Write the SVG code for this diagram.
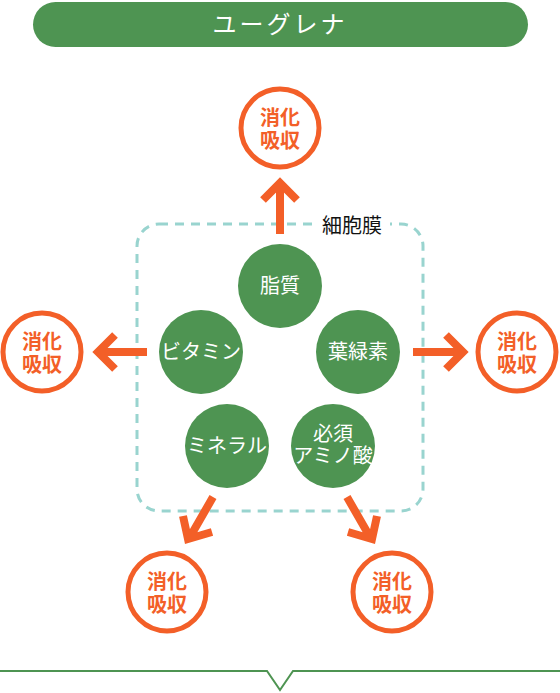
<svg xmlns="http://www.w3.org/2000/svg" width="560" height="693" viewBox="0 0 560 693">
<style>
.green{fill:#4e9452}
.gt{fill:#fff;font-family:"Noto Sans CJK JP","Noto Sans",sans-serif;font-size:20px;text-anchor:middle}
.oc{fill:#fff;stroke:#f35f28;stroke-width:5}
.ot{fill:#f35f28;font-family:"Noto Sans CJK JP","Noto Sans",sans-serif;font-size:20px;font-weight:bold;text-anchor:middle}
.arr{fill:none;stroke:#f35f28;stroke-width:8}
</style>
<rect width="560" height="693" fill="#fff"/>
<g id="title">
<rect x="33" y="2" width="495" height="45" rx="22.5" class="green"/>
<text x="280" y="33" fill="#fff" font-family="'Noto Sans CJK JP','Noto Sans',sans-serif" font-size="24" letter-spacing="3" text-anchor="middle">ユーグレナ</text>
</g>
<g id="membrane">
<rect x="137" y="224" width="286" height="287" rx="22" fill="none" stroke="#99d4cf" stroke-width="3" stroke-dasharray="9 7"/>
<rect x="314" y="212" width="76" height="26" fill="#fff"/>
<text x="352" y="233" fill="#111" font-family="'Noto Sans CJK JP','Noto Sans',sans-serif" font-size="20" text-anchor="middle">細胞膜</text>
</g>
<g id="connectors">
<path class="arr" d="M280 234V185M263 200L280 183L297 200"/>
<path class="arr" d="M413 352H461M446 335L463 352L446 369"/>
<path class="arr" d="M147 352H99M115 335L98 352L115 369"/>
<path class="arr" d="M213 497L190 537M183 516L188 539L212 532"/>
<path class="arr" d="M347 497L370 537M348 532L372 539L377 516"/>
</g>
<g id="lipid"><circle cx="280" cy="286" r="42" class="green"/><text x="280" y="293" class="gt">脂質</text></g>
<g id="vitamin"><circle cx="201" cy="352" r="42" class="green"/><text x="201" y="359" class="gt">ビタミン</text></g>
<g id="chlorophyll"><circle cx="358" cy="352" r="42" class="green"/><text x="358" y="359" class="gt">葉緑素</text></g>
<g id="mineral"><circle cx="227" cy="446" r="42" class="green"/><text x="227" y="453" class="gt">ミネラル</text></g>
<g id="amino"><circle cx="333" cy="446" r="42" class="green"/><text class="gt"><tspan x="333" y="441">必須</tspan><tspan x="333" y="463">アミノ酸</tspan></text></g>
<g id="absorb-top"><circle cx="280" cy="128" r="39" class="oc"/><text class="ot"><tspan x="280" y="125">消化</tspan><tspan x="280" y="148">吸収</tspan></text></g>
<g id="absorb-left"><circle cx="42" cy="352" r="39" class="oc"/><text class="ot"><tspan x="42" y="349">消化</tspan><tspan x="42" y="372">吸収</tspan></text></g>
<g id="absorb-right"><circle cx="517" cy="352" r="39" class="oc"/><text class="ot"><tspan x="517" y="349">消化</tspan><tspan x="517" y="372">吸収</tspan></text></g>
<g id="absorb-bl"><circle cx="167" cy="592" r="39" class="oc"/><text class="ot"><tspan x="167" y="589">消化</tspan><tspan x="167" y="612">吸収</tspan></text></g>
<g id="absorb-br"><circle cx="392" cy="592" r="39" class="oc"/><text class="ot"><tspan x="392" y="589">消化</tspan><tspan x="392" y="612">吸収</tspan></text></g>
<g id="bottom-line">
<path d="M0 671H267L280 690L293 671H560" fill="none" stroke="#4e9452" stroke-width="2"/>
</g>
</svg>
